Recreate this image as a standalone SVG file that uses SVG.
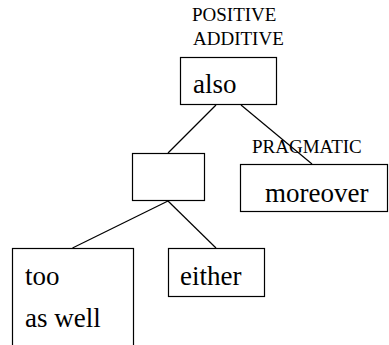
<svg xmlns="http://www.w3.org/2000/svg" width="389" height="345" viewBox="0 0 389 345">
<style>
.box{fill:#fff;stroke:#000;stroke-width:1.2}
.ln{stroke:#000;stroke-width:1.2;fill:none}
text{font-family:'Liberation Serif','Times New Roman',serif;fill:#000}
.big{font-size:27px}
.sm{font-size:19px}
</style>
<rect width="389" height="345" fill="#fff"/>
<g id="connectors">
<line class="ln" x1="216" y1="105" x2="168" y2="153"/>
<line class="ln" x1="241" y1="105" x2="312" y2="164"/>
<line class="ln" x1="168" y1="201" x2="72.5" y2="248"/>
<line class="ln" x1="168" y1="201" x2="216" y2="248"/>
</g>
<g id="also">
<text class="sm" x="192" y="21">POSITIVE</text>
<text class="sm" x="193" y="45">ADDITIVE</text>
<rect class="box" x="180.5" y="57.5" width="96" height="47"/>
<text class="big" x="193" y="92.5">also</text>
</g>
<g id="empty">
<rect class="box" x="132.5" y="153.5" width="72" height="47"/>
</g>
<g id="moreover">
<rect class="box" x="240.5" y="164.5" width="147" height="47"/>
<text class="big" x="265" y="201.5">moreover</text>
</g>
<g id="pragmatic">
<text class="sm" x="252" y="152.5">PRAGMATIC</text>
</g>
<g id="too">
<rect class="box" x="12.5" y="248.5" width="121" height="100"/>
<text class="big" x="25" y="285">too</text>
<text class="big" x="25" y="326.5">as well</text>
</g>
<g id="either">
<rect class="box" x="168.5" y="248.5" width="96" height="48"/>
<text class="big" x="180" y="285">either</text>
</g>
</svg>
